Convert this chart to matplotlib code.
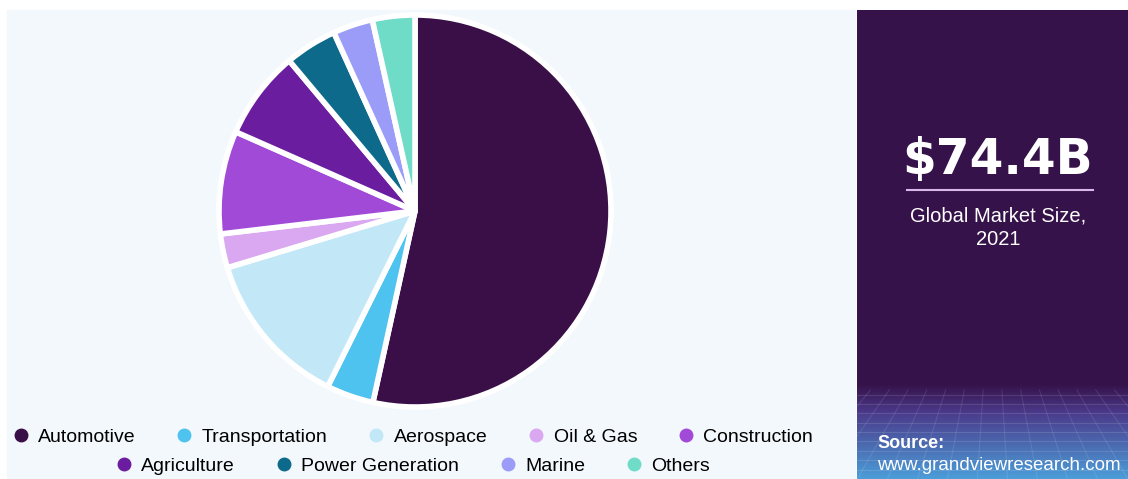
import numpy as np
import matplotlib.pyplot as plt
from matplotlib.lines import Line2D
from matplotlib.patches import Rectangle

segments = ['Automotive', 'Transportation', 'Aerospace', 'Oil & Gas', 'Construction',
            'Agriculture', 'Power Generation', 'Marine', 'Others']
shares = [53.5, 3.9, 13.0, 2.8, 8.5, 7.3, 4.3, 3.3, 3.5]
colors = ['#3a0f47', '#4fc3f0', '#c2e8f8', '#d9a8f0', '#a24ad8',
          '#6a1d9e', '#0e6a8a', '#9b9cf8', '#6fdcc8']

market_size = '$74.4B'
market_label = 'Global Market Size,\n2021'
source_url = 'www.grandviewresearch.com'

FONT = ['Liberation Sans', 'DejaVu Sans']
W, H = 1128, 479

fig = plt.figure(figsize=(W / 100, H / 100), dpi=100, facecolor='white')

# light background of the chart area
fig.patches.append(Rectangle((7 / W, 0), (855 - 7) / W, (H - 10) / H,
                             transform=fig.transFigure, color='#f3f8fc', zorder=-5))

# right side panel with gradient at the bottom
panel = fig.add_axes([857 / W, 0, (W - 857) / W, (H - 10) / H])
grad = np.zeros((200, 10, 3))
top = np.array([0x36, 0x12, 0x4a]) / 255
mid = np.array([0x4a, 0x3a, 0x8a]) / 255
bot = np.array([0x4c, 0x9c, 0xd8]) / 255
for i in range(200):
    f = i / 199  # 0 top -> 1 bottom
    if f < 0.80:
        c = top
    elif f < 0.86:
        c = top + (mid - top) * (f - 0.80) / 0.06
    else:
        c = mid + (bot - mid) * (f - 0.86) / 0.14
    grad[i, :] = c
panel.imshow(grad, aspect='auto', extent=[0, 1, 0, 1], origin='upper')
for y in np.linspace(0.02, 0.18, 9):
    panel.axhline(y, color='white', alpha=0.12, lw=0.8)
for x in np.linspace(0.05, 0.95, 14):
    panel.plot([x, 0.5 + (x - 0.5) * 1.6], [0.19, 0.0], color='white', alpha=0.10, lw=0.8)
panel.set_xlim(0, 1)
panel.set_ylim(0, 1)
panel.axis('off')

panel.text(0.52, (479 - 160) / 469, market_size, color='white', fontsize=35,
           fontweight='bold', ha='center', va='center', family=['DejaVu Sans'])
panel.plot([0.185, 0.87], [(479 - 190) / 469] * 2, color='#d8b8e8', lw=1.5)
panel.text(0.52, (479 - 228) / 469, market_label, color='white', fontsize=14.5,
           ha='center', va='center', linespacing=1.3, family=FONT)
panel.text(0.075, (479 - 443) / 469, 'Source:', color='white', fontsize=13,
           fontweight='bold', ha='left', va='center', family=FONT)
panel.text(0.075, (479 - 466) / 469, source_url, color='white', fontsize=13.5,
           ha='left', va='center', family=FONT)

# pie
ax = fig.add_axes([(415 - 196) / W, (479 - 211 - 196) / H, 392 / W, 392 / H])
ax.pie(shares, colors=colors, startangle=90, counterclock=False,
       wedgeprops=dict(edgecolor='white', linewidth=4, joinstyle='round'))
ax.set_xlim(-1.0, 1.0)
ax.set_ylim(-1.0, 1.0)
ax.set_aspect('equal')
ax.axis('off')

# legend in two centred rows
handles = [Line2D([], [], marker='o', linestyle='none', markersize=9,
                  markerfacecolor=c, markeredgecolor=c) for c in colors]
common = dict(frameon=False, handletextpad=0.4, handlelength=1.0,
              prop={'family': FONT, 'size': 14}, borderaxespad=0, borderpad=0)
fig.legend(handles[:5], segments[:5], ncol=5, loc='center',
           bbox_to_anchor=(412 / W, 1 - 437 / H), columnspacing=2.0, **common)
fig.legend(handles[5:], segments[5:], ncol=4, loc='center',
           bbox_to_anchor=(412 / W, 1 - 466 / H), columnspacing=2.0, **common)

fig.savefig('out.png', dpi=100, facecolor='white')
